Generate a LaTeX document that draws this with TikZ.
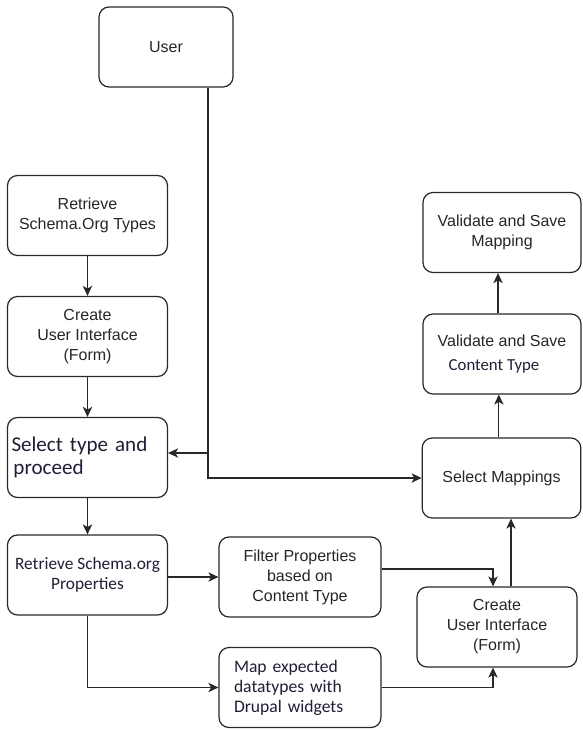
\documentclass[tikz,border=0pt]{standalone}
\usepackage{fontspec}
\setmainfont{Liberation Sans}
\newfontfamily\calibri{Carlito}
\usetikzlibrary{arrows.meta}

\definecolor{boxline}{RGB}{40,40,40}
\definecolor{arialtext}{RGB}{38,38,38}
\definecolor{calibritext}{RGB}{30,30,52}

\tikzset{
	flowbox/.style={draw=boxline, line width=0.9pt, rounded corners=7.5pt, minimum width=120pt, minimum height=60pt, inner sep=0pt, align=center, text=arialtext, font=\fontsize{12}{15}\selectfont},
	calibribox/.style={flowbox, text=calibritext, font=\calibri\fontsize{13}{15}\selectfont},
	flowarrow/.style={draw=boxline, line width=0.9pt, -{Stealth[length=7.5pt,width=7pt,inset=2pt]}},
	flowline/.style={draw=boxline, line width=0.9pt}
}

\begin{document}
\begin{tikzpicture}[x=0.75pt, y=-0.75pt]
	\useasboundingbox (0,0) rectangle (582,730);
	% left column
	\node[flowbox, minimum width=100.5pt] (user) at (166,47) {User};
	\node[flowbox] (types) at (87.5,215.5) {Retrieve\\Schema.Org Types};
	\node[flowbox] (formL) at (87.5,336.5) {Create\\User Interface\\(Form)};
	\node[calibribox, align=left, text width=114pt, inner xsep=3pt, font=\calibri\fontsize{15.8}{17.5}\selectfont] (select) at (87.5,457.5) {Select type and\\\hspace*{1.5pt}proceed};
	\node[calibribox] (props) at (87.5,575) {Retrieve Schema.org\\Properties};
	% middle column
	\node[flowbox, minimum width=121.5pt] (filter) at (300,577) {Filter Properties\\based on\\Content Type};
	\node[calibribox, minimum width=121.5pt, align=left, text width=99pt, inner xsep=11.25pt, font=\calibri\fontsize{13.2}{15}\selectfont] (mapdt) at (300,687.5) {Map expected\\datatypes with\\Drupal widgets};
	% right column
	\node[flowbox] (formR) at (497,627) {Create\\User Interface\\(Form)};
	\node[flowbox, minimum width=119pt] (mappings) at (501.5,478) {Select Mappings};
	\node[flowbox, minimum width=118.5pt] (valct) at (502,354) {Validate and Save\\[3pt]{\calibri\color{calibritext}\fontsize{12.6}{15}\selectfont\hspace*{-12pt}Content Type}};
	\node[flowbox, minimum width=118.5pt] (valmap) at (502,232.5) {Validate and Save\\Mapping};

	\coordinate (branch) at (208,453);

	\draw[flowarrow] (types) -- (formL);
	\draw[flowarrow] (formL) -- (select);
	\draw[flowarrow] (select) -- (props);
	\draw[flowline] ([xshift=31.5pt]user.south) -- (branch);
	\draw[flowarrow] (branch) -- (branch -| select.east);
	\draw[flowarrow] (branch) |- (mappings.west);
	\draw[flowarrow] (props.east |- filter.west) -- (filter.west);
	\draw[flowarrow] (props.south) |- (mapdt.west);
	\draw[flowarrow] ([yshift=6pt]filter.east) -| ([xshift=-3pt]formR.north);
	\draw[flowarrow] (mapdt.east) -| ([xshift=-3pt]formR.south);
	\draw[flowarrow] ([xshift=10.5pt]formR.north) -- ([xshift=10.5pt]formR.north |- mappings.south);
	\draw[flowarrow] ([xshift=-2pt]mappings.north) -- ([xshift=-2pt]mappings.north |- valct.south);
	\draw[flowarrow] ([xshift=-3pt]valct.north) -- ([xshift=-3pt]valct.north |- valmap.south);
\end{tikzpicture}
\end{document}
